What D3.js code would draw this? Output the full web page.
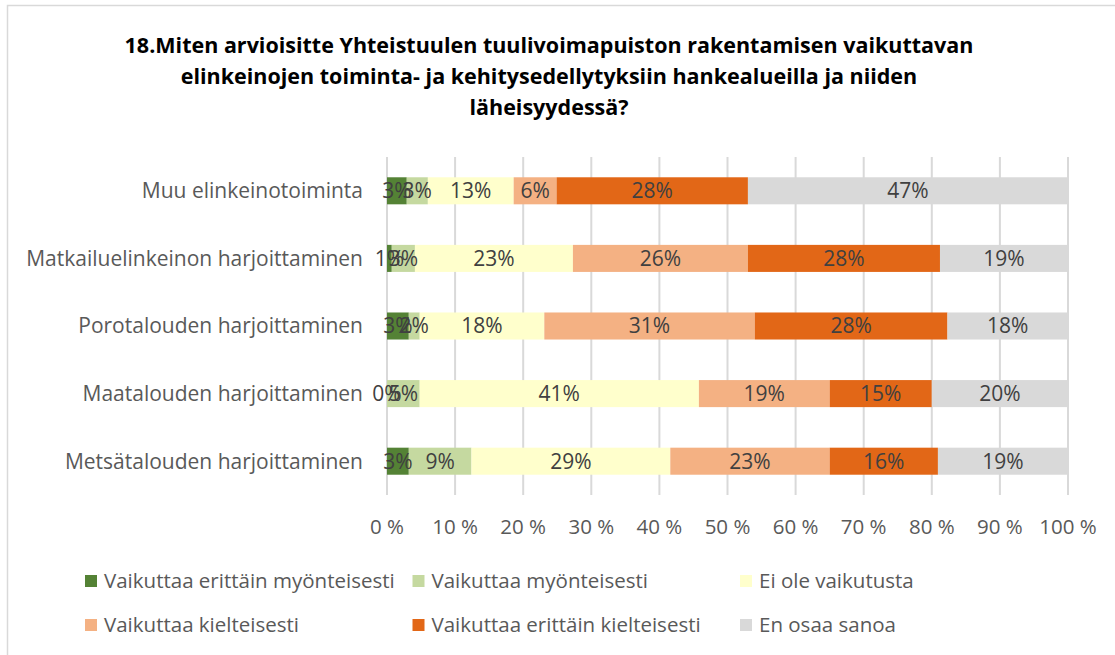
<!DOCTYPE html>
<html>
<head>
<meta charset="utf-8">
<script src="https://cdn.jsdelivr.net/npm/d3@7"></script>
<style>
  body { margin: 0; background: #fff; }
  svg { display: block; font-family: "Open Sans", sans-serif; }
</style>
</head>
<body>
<script>
const width = 1115;
const height = 655;

const titleLines = [
    "18.Miten arvioisitte Yhteistuulen tuulivoimapuiston rakentamisen vaikuttavan",
    "elinkeinojen toiminta- ja kehitysedellytyksiin hankealueilla ja niiden",
    "läheisyydessä?"
];

const categories = [
    "Muu elinkeinotoiminta",
    "Matkailuelinkeinon harjoittaminen",
    "Porotalouden harjoittaminen",
    "Maatalouden harjoittaminen",
    "Metsätalouden harjoittaminen"
];

const seriesNames = [
    "Vaikuttaa erittäin myönteisesti",
    "Vaikuttaa myönteisesti",
    "Ei ole vaikutusta",
    "Vaikuttaa kielteisesti",
    "Vaikuttaa erittäin kielteisesti",
    "En osaa sanoa"
];

const seriesColors = ["#548235", "#c5d9a0", "#ffffcc", "#f4b183", "#e26717", "#d9d9d9"];

// per category, one value per series (percent)
const muu       = [2.9, 3.1, 12.6, 6.3, 28.1, 47.0];
const matkailu  = [0.7, 3.4, 23.2, 25.7, 28.2, 18.8];
const poro      = [3.2, 1.6, 18.3, 30.9, 28.3, 17.7];
const maatalous = [0.0, 4.8, 41.0, 19.2, 15.0, 20.0];
const metsa     = [3.2, 9.2, 29.2, 23.4, 15.9, 19.1];

const values = [muu, matkailu, poro, maatalous, metsa];

const xTicks = [0, 10, 20, 30, 40, 50, 60, 70, 80, 90, 100];

const table = categories.map((c, i) => {
    const row = {category: c};
    seriesNames.forEach((s, j) => row[s] = values[i][j]);
    return row;
});

const stacked = d3.stack().keys(seriesNames)(table);

const x = d3.scaleLinear().domain([0, 100]).range([387, 1068]);
const y = d3.scaleBand().domain(categories).range([157, 495]).paddingInner(0.6).paddingOuter(0.3);
const color = d3.scaleOrdinal().domain(seriesNames).range(seriesColors);

const svg = d3.select('body').append('svg').attr('width', width).attr('height', height);

// chart frame
svg.append('rect').attr('x', 7.5).attr('y', 5.5).attr('width', 1120).attr('height', 670)
    .style('fill', 'none').style('stroke', '#d9d9d9').style('stroke-width', 1.5);

// title
svg.append('g').selectAll('text').data(titleLines).enter().append('text')
    .attr('x', 549).attr('y', (d, i) => 53 + i * 31)
    .attr('text-anchor', 'middle')
    .style('font-weight', 'bold').style('font-size', '21.5px').style('fill', '#000')
    .text(d => d);

// gridlines
svg.append('g').selectAll('line').data(xTicks).enter().append('line')
    .attr('x1', d => x(d)).attr('x2', d => x(d))
    .attr('y1', 157).attr('y2', 495)
    .style('stroke', '#d9d9d9').style('stroke-width', 2);

// x tick labels
svg.append('g').selectAll('text').data(xTicks).enter().append('text')
    .attr('x', d => x(d)).attr('y', 534)
    .attr('text-anchor', 'middle')
    .style('font-size', '20.5px').style('fill', '#595959')
    .text(d => d + ' %');

// category labels
svg.append('g').selectAll('text').data(categories).enter().append('text')
    .attr('x', 363).attr('y', d => y(d) + y.bandwidth() / 2)
    .attr('dy', '0.35em').attr('text-anchor', 'end')
    .style('font-size', '21px').style('fill', '#595959')
    .text(d => d);

// bars
const layers = svg.append('g').selectAll('g').data(stacked).enter().append('g')
    .style('fill', d => color(d.key));

layers.selectAll('rect').data(d => d).enter().append('rect')
    .attr('x', d => x(d[0])).attr('width', d => x(d[1]) - x(d[0]))
    .attr('y', d => y(d.data.category)).attr('height', y.bandwidth());

// data labels
const labelLayers = svg.append('g').selectAll('g').data(stacked).enter().append('g');
labelLayers.selectAll('text').data(d => d).enter().append('text')
    .attr('x', d => (x(d[0]) + x(d[1])) / 2)
    .attr('y', d => y(d.data.category) + y.bandwidth() / 2)
    .attr('dy', '0.35em').attr('text-anchor', 'middle')
    .style('font-size', '21px').style('fill', '#404040')
    .text(d => Math.round(d[1] - d[0]) + '%');

// legend
const legend = svg.append('g').selectAll('g').data(seriesNames).enter().append('g')
    .attr('transform', (d, i) => `translate(${85 + (i % 3) * 327.5},${i < 3 ? 581 : 625})`);

legend.append('rect').attr('x', 0).attr('y', -6).attr('width', 12).attr('height', 12)
    .style('fill', d => color(d));

legend.append('text').attr('x', 19).attr('dy', '0.35em')
    .style('font-size', '20.5px').style('fill', '#595959')
    .text(d => d);
</script>
</body>
</html>
